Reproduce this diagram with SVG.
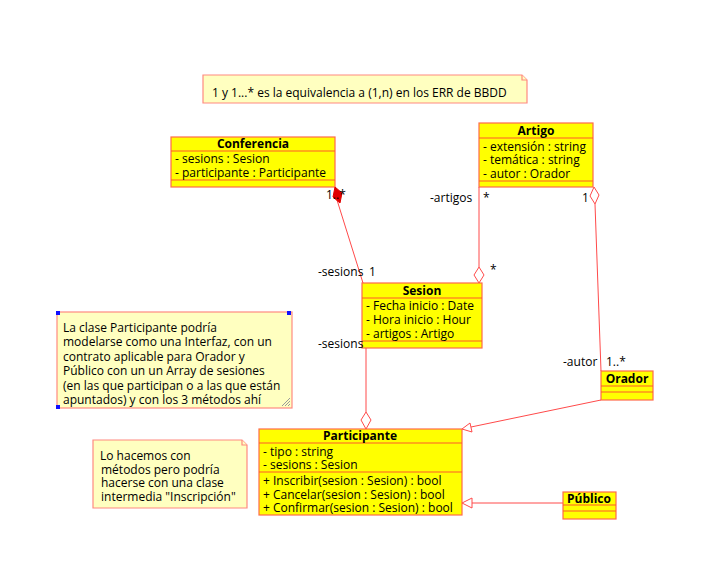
<svg xmlns="http://www.w3.org/2000/svg" width="706" height="569" viewBox="0 0 706 569">
<style>
text{font-family:"Open Sans","DejaVu Sans",sans-serif;font-size:12px;fill:#000}
.t{font-weight:bold;text-anchor:middle}
.box{fill:#ffff00;stroke:#ff6a4a;stroke-width:1.2}
.sep{stroke:#ff5a2a;stroke-width:1.2}
.note{fill:#ffffc0;stroke:#ff8a80;stroke-width:1.2}
.ln{stroke:#ff4a4a;stroke-width:1;fill:none}
.hol{fill:#fff;stroke:#ff4a4a;stroke-width:1}
.lbl{font-size:12px}
</style>
<rect width="706" height="569" fill="#fff"/>

<g id="note-top">
<path class="note" d="M203,75 H522 L527,80 V103 H203 Z"/>
<path class="note" d="M522,75 V80 H527" fill="none"/>
<text x="212" y="97">1 y 1...* es la equivalencia a (1,n) en los ERR de BBDD</text>
</g>

<g id="Conferencia">
<rect class="box" x="171" y="137" width="164" height="50"/>
<line class="sep" x1="171" y1="151" x2="335" y2="151"/>
<line class="sep" x1="171" y1="180" x2="335" y2="180"/>
<text class="t" x="253" y="148">Conferencia</text>
<text x="175" y="163">- sesions : Sesion</text>
<text x="175" y="177">- participante : Participante</text>
</g>

<g id="Artigo">
<rect class="box" x="479" y="123" width="114" height="64"/>
<line class="sep" x1="479" y1="138" x2="593" y2="138"/>
<line class="sep" x1="479" y1="181" x2="593" y2="181"/>
<text class="t" x="536" y="135">Artigo</text>
<text x="483" y="151">- extensión : string</text>
<text x="483" y="164">- temática : string</text>
<text x="483" y="178">- autor : Orador</text>
</g>

<g id="Sesion">
<rect class="box" x="362" y="283" width="120" height="65"/>
<line class="sep" x1="362" y1="298" x2="482" y2="298"/>
<line class="sep" x1="362" y1="341" x2="482" y2="341"/>
<text class="t" x="422" y="295">Sesion</text>
<text x="366" y="310">- Fecha inicio : Date</text>
<text x="366" y="324">- Hora inicio : Hour</text>
<text x="366" y="338">- artigos : Artigo</text>
</g>

<g id="Orador">
<rect class="box" x="601" y="371" width="52" height="29"/>
<line class="sep" x1="601" y1="386" x2="653" y2="386"/>
<line class="sep" x1="601" y1="392" x2="653" y2="392"/>
<text class="t" x="627" y="383">Orador</text>
</g>

<g id="Participante">
<rect class="box" x="259" y="429" width="203" height="86"/>
<line class="sep" x1="259" y1="443" x2="462" y2="443"/>
<line class="sep" x1="259" y1="472" x2="462" y2="472"/>
<text class="t" x="360" y="440">Participante</text>
<text x="263" y="456">- tipo : string</text>
<text x="263" y="469">- sesions : Sesion</text>
<text x="263" y="485">+ Inscribir(sesion : Sesion) : bool</text>
<text x="263" y="499">+ Cancelar(sesion : Sesion) : bool</text>
<text x="263" y="512">+ Confirmar(sesion : Sesion) : bool</text>
</g>

<g id="Publico">
<rect class="box" x="563" y="492" width="53" height="27"/>
<line class="sep" x1="563" y1="505" x2="616" y2="505"/>
<line class="sep" x1="563" y1="511" x2="616" y2="511"/>
<text class="t" x="589" y="503">Público</text>
</g>

<g id="note-interfaz">
<rect class="note" x="57" y="312" width="235" height="96"/>
<g stroke="#999" stroke-width="1">
<line x1="282" y1="406" x2="290" y2="398"/>
<line x1="285" y1="406" x2="290" y2="401"/>
<line x1="288" y1="406" x2="290" y2="404"/>
</g>
<g fill="#1010ff">
<rect x="56" y="311" width="4" height="4"/>
<rect x="287" y="311" width="4" height="4"/>
<rect x="56" y="405" width="4" height="4"/>
</g>
<text x="63" y="332"> La clase Participante podría</text>
<text x="63" y="346">modelarse como una Interfaz, con un</text>
<text x="63" y="361">contrato aplicable para Orador y</text>
<text x="63" y="375">Público con un un Array de sesiones</text>
<text x="63" y="390">(en las que participan o a las que están</text>
<text x="63" y="404">apuntados) y con los 3 métodos ahí</text>
</g>

<g id="note-metodos">
<path class="note" d="M93,440 H242 L247,445 V508 H93 Z"/>
<path class="note" d="M242,440 V445 H247" fill="none"/>
<text x="100" y="460"> Lo hacemos con</text>
<text x="101" y="474">métodos pero podría</text>
<text x="101" y="487">hacerse con una clase</text>
<text x="101" y="501">intermedia "Inscripción"</text>
</g>

<g id="connectors">
<!-- Conferencia - Sesion (composition) -->
<line class="ln" x1="337" y1="200" x2="363" y2="283"/>
<path d="M335,187 L342,193 L340,203 L333,197 Z" fill="#e00000" stroke="#e00000"/>
<text x="326" y="199">1..*</text>
<text x="318" y="276">-sesions</text>
<text x="369" y="276">1</text>
<!-- Artigo - Sesion (aggregation) -->
<line class="ln" x1="479" y1="187" x2="479" y2="267"/>
<path class="hol" d="M479,267 L484,275 L479,283 L474,275 Z"/>
<text x="430" y="202">-artigos</text>
<text x="483" y="202">*</text>
<text x="490" y="274">*</text>
<!-- Artigo - Orador (aggregation) -->
<path class="hol" d="M594,187 L599,195 L595,204 L590,196 Z"/>
<line class="ln" x1="595" y1="204" x2="601" y2="371"/>
<text x="582" y="202">1</text>
<text x="563" y="366">-autor</text>
<text x="606" y="366">1..*</text>
<!-- Sesion - Participante (aggregation) -->
<line class="ln" x1="366" y1="348" x2="366" y2="412"/>
<path class="hol" d="M366,412 L371,420 L366,429 L361,420 Z"/>
<text x="318" y="348">-sesions</text>
<!-- Orador - Participante (generalization) -->
<line class="ln" x1="601" y1="400" x2="471" y2="427"/>
<path class="hol" d="M462,429 L470,423 L472,432 Z"/>
<!-- Publico - Participante (generalization) -->
<line class="ln" x1="563" y1="503" x2="472" y2="503"/>
<path class="hol" d="M462,503 L472,498 L472,508 Z"/>
</g>
</svg>
